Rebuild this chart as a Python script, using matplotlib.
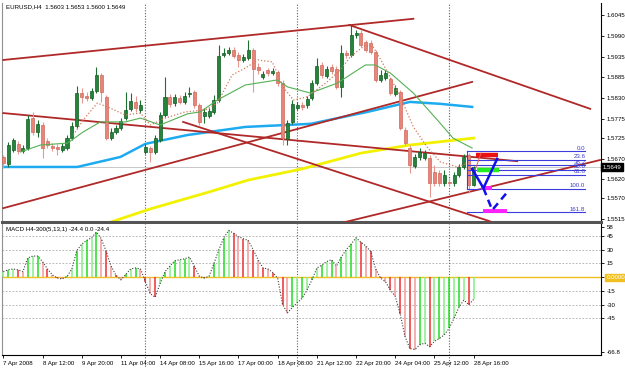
import matplotlib
matplotlib.use("Agg")
import matplotlib.pyplot as plt

plt.rcParams['font.family'] = ['Liberation Sans', 'DejaVu Sans']

# chart header texts
title = "EURUSD,H4  1.5603 1.5653 1.5600 1.5649"
macd_title = "MACD H4-300(5,13,1) -24.4 0.0 -24.4"

# H4 candles, 97 bars (6 Apr 20:00 .. 28 Apr 16:00)
opens = [1.5676, 1.5658, 1.5694, 1.5710, 1.5691, 1.5699, 1.5777, 1.5741, 1.5759, 1.5717,
         1.5704, 1.5702, 1.5694, 1.5699, 1.5725, 1.5756, 1.5842, 1.5834, 1.5829, 1.5847,
         1.5889, 1.5832, 1.5725, 1.5741, 1.5751, 1.5777, 1.5801, 1.5819, 1.5798, 1.5689,
         1.5699, 1.5689, 1.5720, 1.5785, 1.5832, 1.5816, 1.5829, 1.5819, 1.5840, 1.5845,
         1.5811, 1.5782, 1.5782, 1.5793, 1.5824, 1.5941, 1.5946, 1.5954, 1.5941, 1.5928,
         1.5933, 1.5954, 1.5910, 1.5884, 1.5902, 1.5894, 1.5897, 1.5868, 1.5723, 1.5767,
         1.5803, 1.5811, 1.5811, 1.5829, 1.5868, 1.5915, 1.5886, 1.5910, 1.5905, 1.5858,
         1.5946, 1.5941, 1.5993, 1.5998, 1.5975, 1.5972, 1.5949, 1.5876, 1.5881, 1.5879,
         1.5840, 1.5845, 1.5746, 1.5699, 1.5652, 1.5676, 1.5673, 1.5673, 1.5637, 1.5634,
         1.5608, 1.5611, 1.5608, 1.5629, 1.5650, 1.5681, 1.5603]
highs = [1.5681, 1.5715, 1.5725, 1.5717, 1.5707, 1.5785, 1.5793, 1.5772, 1.5767, 1.5725,
         1.5712, 1.5710, 1.5712, 1.5733, 1.5767, 1.5860, 1.5855, 1.5845, 1.5855, 1.5910,
         1.5894, 1.5837, 1.5751, 1.5759, 1.5777, 1.5845, 1.5842, 1.5834, 1.5824, 1.5710,
         1.5704, 1.5733, 1.5793, 1.5884, 1.5840, 1.5840, 1.5837, 1.5845, 1.5858, 1.5850,
         1.5816, 1.5803, 1.5803, 1.5837, 1.5967, 1.5959, 1.5962, 1.5962, 1.5949, 1.5944,
         1.5980, 1.5959, 1.5920, 1.5899, 1.5907, 1.5907, 1.5902, 1.5876, 1.5772, 1.5824,
         1.5819, 1.5819, 1.5834, 1.5876, 1.5933, 1.5923, 1.5912, 1.5918, 1.5912, 1.5967,
         1.5954, 1.6019, 1.6006, 1.6006, 1.5980, 1.5980, 1.5954, 1.5902, 1.5902, 1.5884,
         1.5863, 1.5850, 1.5754, 1.5707, 1.5684, 1.5699, 1.5694, 1.5681, 1.5655, 1.5642,
         1.5642, 1.5621, 1.5637, 1.5658, 1.5684, 1.5686, 1.5653]
lows = [1.5647, 1.5650, 1.5689, 1.5684, 1.5686, 1.5694, 1.5733, 1.5728, 1.5673, 1.5699,
        1.5691, 1.5681, 1.5689, 1.5694, 1.5720, 1.5751, 1.5816, 1.5821, 1.5824, 1.5842,
        1.5819, 1.5720, 1.5720, 1.5736, 1.5746, 1.5772, 1.5795, 1.5793, 1.5790, 1.5684,
        1.5663, 1.5684, 1.5715, 1.5780, 1.5806, 1.5808, 1.5814, 1.5814, 1.5832, 1.5803,
        1.5759, 1.5764, 1.5777, 1.5788, 1.5819, 1.5936, 1.5941, 1.5933, 1.5910, 1.5923,
        1.5928, 1.5845, 1.5892, 1.5879, 1.5886, 1.5889, 1.5860, 1.5707, 1.5707, 1.5762,
        1.5798, 1.5798, 1.5803, 1.5824, 1.5863, 1.5881, 1.5881, 1.5892, 1.5853, 1.5832,
        1.5933, 1.5936, 1.5985, 1.5962, 1.5949, 1.5944, 1.5871, 1.5871, 1.5876, 1.5837,
        1.5834, 1.5746, 1.5707, 1.5634, 1.5647, 1.5668, 1.5668, 1.5572, 1.5600, 1.5600,
        1.5600, 1.5600, 1.5600, 1.5624, 1.5645, 1.5582, 1.5600]
closes = [1.5660, 1.5707, 1.5720, 1.5691, 1.5699, 1.5775, 1.5741, 1.5762, 1.5699, 1.5707,
          1.5699, 1.5697, 1.5704, 1.5725, 1.5756, 1.5842, 1.5832, 1.5829, 1.5847, 1.5889,
          1.5845, 1.5725, 1.5741, 1.5751, 1.5769, 1.5798, 1.5821, 1.5803, 1.5811, 1.5702,
          1.5689, 1.5725, 1.5785, 1.5832, 1.5814, 1.5832, 1.5819, 1.5834, 1.5842, 1.5811,
          1.5767, 1.5793, 1.5795, 1.5824, 1.5938, 1.5946, 1.5954, 1.5938, 1.5928, 1.5936,
          1.5954, 1.5905, 1.5902, 1.5892, 1.5894, 1.5899, 1.5868, 1.5725, 1.5764, 1.5814,
          1.5811, 1.5806, 1.5827, 1.5868, 1.5912, 1.5889, 1.5905, 1.5899, 1.5858, 1.5946,
          1.5941, 1.5993, 1.5998, 1.5967, 1.5954, 1.5949, 1.5876, 1.5889, 1.5894, 1.5842,
          1.5855, 1.5751, 1.5712, 1.5655, 1.5676, 1.5689, 1.5686, 1.5608, 1.5608, 1.5608,
          1.5629, 1.5608, 1.5629, 1.5650, 1.5676, 1.5603, 1.5649]

# MACD histogram, one value per bar
macd = [6, 8, 9, 8, 6, 21, 23, 23, 17, 9,
        2.5, -1, -2, 0.7, 9, 29, 36, 40, 43, 49,
        42, 28, 12, 2, -3, 3, 9, 10, 9, -5,
        -18, -22, -7, 6, 12, 18, 19, 20, 22, 12,
        1, -1, 1, 15, 30, 43, 51, 48, 44, 42,
        40, 30, 19, 10, 9, 5, -1, -30, -39, -33,
        -28, -23, -14, -3, 10, 13, 17, 19, 12, 22,
        30, 36, 43, 38, 34, 28, 9, -1, -5, -14,
        -21, -40, -65, -78, -79, -74, -72, -76, -70, -67,
        -63, -56, -45, -33, -25, -30, -24.4]

# moving averages (bar index, price)
ma_green_x = [3.5, 7.6, 13.1, 16.3, 19.8, 24.9, 28, 32, 37.6, 40.2, 43.7, 49.4, 55.9, 58,
              62.7, 68.2, 73.9, 75.9, 79, 83.7, 88.6, 91.8, 95.7]
ma_green_y = [1.5689, 1.5707, 1.5712, 1.5741, 1.5767, 1.5767, 1.5777, 1.5759, 1.5788, 1.5793,
              1.5824, 1.5863, 1.5876, 1.5858, 1.5842, 1.5868, 1.5915, 1.5915, 1.5894, 1.5842,
              1.5772, 1.5725, 1.5699]
ma_dot_x = [14.3, 16.3, 19.2, 21.8, 24.9, 28, 30, 33.1, 37.1, 41.2, 43.7, 46.7, 49.4, 52,
            54.9, 57.1, 59.2, 62, 66.1, 68.8, 70.8, 73.9, 75.5, 77.3, 79.6, 81.6, 83.7, 86.5,
            89.2, 92.7, 94.7]
ma_dot_y = [1.5733, 1.5772, 1.5816, 1.5803, 1.5785, 1.5790, 1.5759, 1.5777, 1.5793, 1.5798,
            1.5816, 1.5889, 1.5907, 1.5928, 1.5923, 1.5858, 1.5824, 1.5832, 1.5871, 1.5902,
            1.5936, 1.5967, 1.5962, 1.5923, 1.5868, 1.5816, 1.5754, 1.5702, 1.5663, 1.5650,
            1.5660]
ma_blue_x = [0, 15.1, 23.9, 29, 37.6, 49.4, 62.7, 74.3, 83, 89.2, 95.7]
ma_blue_y = [1.5650, 1.5650, 1.5676, 1.5710, 1.5733, 1.5754, 1.5762, 1.5793, 1.5819, 1.5814, 1.5806]
ma_yellow_x = [22, 30, 42, 50, 61, 73, 83, 96]
ma_yellow_y = [1.5507, 1.5541, 1.5585, 1.5616, 1.5645, 1.5686, 1.5707, 1.5725]

# trend lines: (bar0, price0, bar1, price1)
trend_lines = [
    (0, 1.5928, 83.7, 1.6035),
    (70.6, 1.6019, 119.8, 1.5801),
    (0, 1.5543, 95.7, 1.5871),
    (69.8, 1.5507, 121.8, 1.5668),
    (0, 1.5790, 104.9, 1.5665),
    (36.7, 1.5767, 99.3, 1.5509),
]

# fibonacci retracement
fib_labels = ["0.0", "23.6", "38.2", "50.0", "61.8", "100.0", "161.8"]
fib_prices = [1.5691, 1.5668, 1.5654, 1.5642, 1.5630, 1.5593, 1.5532]
fib_x0, fib_x1 = 94.7, 118.8

# hand drawn projection
v_solid_x = [95.7, 98, 100.8]
v_solid_y = [1.5645, 1.5595, 1.5671]
v_dash_x = [98, 99.8, 102.9]
v_dash_y = [1.5595, 1.5538, 1.5585]

bid = 1.5649
price_ticks = [1.6045, 1.5990, 1.5935, 1.5885, 1.5830, 1.5775, 1.5725, 1.5670, 1.5620, 1.5570, 1.5515]
macd_ticks = [55, 45, 30, 15, 0, -15, -30, -45, -82]
macd_tick_labels = ["58", "45", "30", "15", "0.0000", "-15", "-30", "-45", "-66.8"]
time_bars = [0, 8, 16, 24, 32, 40, 48, 56, 64, 72, 80, 88, 96]
time_labels = ["7 Apr 2008", "8 Apr 12:00", "9 Apr 20:00", "11 Apr 04:00", "14 Apr 08:00",
               "15 Apr 16:00", "17 Apr 00:00", "18 Apr 08:00", "21 Apr 12:00", "22 Apr 20:00",
               "24 Apr 04:00", "25 Apr 12:00", "28 Apr 16:00"]
week_breaks = [29, 60, 91]

W, H = 625, 368
fig = plt.figure(figsize=(W / 100, H / 100), dpi=100)
fig.patch.set_facecolor('white')
ax = fig.add_axes([2 / W, 1 - 222 / H, 599 / W, 219 / H])
ax2 = fig.add_axes([2 / W, 1 - 355 / H, 599 / W, 131 / H])
xlim = (-0.27, 122)
fs = 4.4

# ---- main price panel ----
ax.set_xlim(*xlim)
ax.set_ylim(1.5507, 1.6076)
ax.axhline(bid, color='#c8c8c8', lw=0.7, zorder=1)
for b in week_breaks:
    ax.axvline(b, color='#606060', lw=0.8, ls=(0, (1, 1.5)), zorder=1)

ax.plot(ma_yellow_x, ma_yellow_y, color='#f2f200', lw=2.0, zorder=2)
ax.plot(ma_blue_x, ma_blue_y, color='#1eaaf0', lw=1.8, zorder=2)
for x0, y0, x1, y1 in trend_lines:
    ax.plot([x0, x1], [y0, y1], color='#b02828', lw=1.3, zorder=3)

for i in range(len(opens)):
    o, h, l, c = opens[i], highs[i], lows[i], closes[i]
    up = c >= o
    body = '#23843a' if up else '#e8857a'
    edge = '#135c22' if up else '#d0685c'
    wick = '#1d6e30' if up else '#e49a90'
    ax.vlines(i, l, h, color=wick, lw=0.8, zorder=4)
    ax.bar(i, max(abs(c - o), 0.00012), bottom=min(o, c), width=0.62,
           color=body, edgecolor=edge, lw=0.5, zorder=5)

ax.plot(ma_green_x, ma_green_y, color='#55b055', lw=0.8, zorder=6)
ax.plot(ma_dot_x, ma_dot_y, color='#d27a5a', lw=0.9, ls=(0, (1, 1.6)), zorder=6)

# fibo
for lab, p in zip(fib_labels, fib_prices):
    ax.plot([fib_x0, fib_x1], [p, p], color='#3c3cdc', lw=0.8, zorder=7)
    ax.text(fib_x1, p + 0.00015, lab, color='#3c3cc8', fontsize=fs, ha='right', va='bottom', zorder=8)
ax.plot([fib_x0, fib_x0], [fib_prices[0], fib_prices[5]], color='#3c3cdc', lw=0.8, zorder=7)

ax.plot([96.5, 101], [1.5680, 1.5680], color='#ee1111', lw=3.2, solid_capstyle='butt', zorder=9)
ax.plot([96.7, 101.2], [1.5641, 1.5641], color='#22ee22', lw=3.2, solid_capstyle='butt', zorder=9)
ax.plot([97.5, 99.8], [1.5595, 1.5595], color='#ff22ff', lw=2.8, solid_capstyle='butt', zorder=9)
ax.plot([98, 102.9], [1.5535, 1.5535], color='#ff22ff', lw=2.8, solid_capstyle='butt', zorder=9)
ax.plot([96.3, 97.5], [1.5642, 1.5686], color='#e06060', lw=0.7, zorder=9)
ax.plot(v_solid_x, v_solid_y, color='#1010ee', lw=1.8, zorder=10)
ax.plot(v_dash_x, v_dash_y, color='#1010ee', lw=1.8, ls=(0, (3, 2)), zorder=10)

ax.text(0.6, 1.6067, title, fontsize=fs, color='black', va='center', ha='left')

ax.yaxis.tick_right()
ax.set_yticks(price_ticks)
ax.set_yticklabels(["%.4f" % p for p in price_ticks])
ax.tick_params(axis='y', labelsize=fs, length=2.5, width=0.6, pad=1.5, colors='black')
ax.tick_params(axis='x', bottom=False, labelbottom=False)
ax.text(1.003, (bid - 1.5507) / (1.6076 - 1.5507), "%.4f" % bid, transform=ax.transAxes,
        fontsize=fs, color='white', va='center', ha='left',
        bbox=dict(boxstyle='square,pad=0.25', fc='black', ec='black'))
ax.spines['top'].set_visible(False)
ax.spines['left'].set_color('#909090')
ax.spines['right'].set_color('black')
ax.spines['right'].set_linewidth(0.8)
ax.spines['bottom'].set_color('#555555')
ax.spines['bottom'].set_linewidth(2.2)

# ---- MACD panel ----
ax2.set_xlim(*xlim)
ax2.set_ylim(-85, 58)
for g in [45, 30, 15, -15, -30, -45]:
    ax2.axhline(g, color='#a8a8a8', lw=0.6, ls=(0, (2, 2)), zorder=1)
for b in week_breaks:
    ax2.axvline(b, ymin=-0.12, ymax=1, color='#606060', lw=0.8, ls=(0, (1, 1.5)),
                zorder=1, clip_on=False)
ax2.axhline(0, color='#f0c020', lw=1.0, zorder=2)

bar_cols = []
for i, v in enumerate(macd):
    rising = i == 0 or v >= macd[i - 1]
    if rising:
        col = '#22dd22' if i % 2 else '#88ee88'
    else:
        col = '#ee3030' if i % 2 else '#f29a9a'
    bar_cols.append(col)
ax2.vlines(range(len(macd)), 0, macd, colors=bar_cols, lw=1.1, zorder=3)
ax2.plot(range(len(macd)), macd, color='#404040', lw=0.8, ls=(0, (1, 1.5)), zorder=4)
ax2.text(0.6, 52, macd_title, fontsize=fs, color='black', va='center', ha='left')

ax2.yaxis.tick_right()
ax2.set_yticks(macd_ticks)
ax2.set_yticklabels(macd_tick_labels)
ax2.tick_params(axis='y', labelsize=fs, length=2.5, width=0.6, pad=1.5)
for lab in ax2.get_yticklabels():
    if lab.get_text() == "0.0000":
        lab.set_color('white')
        lab.set_bbox(dict(boxstyle='square,pad=0.2', fc='#f0c020', ec='#f0c020'))
ax2.set_xticks(time_bars)
ax2.set_xticklabels(time_labels)
ax2.tick_params(axis='x', labelsize=fs, length=2.5, width=0.6, pad=1.5)
for lab in ax2.get_xticklabels():
    lab.set_ha('left')
ax2.spines['top'].set_visible(False)
ax2.spines['left'].set_color('#909090')
ax2.spines['right'].set_linewidth(0.8)
ax2.spines['bottom'].set_linewidth(0.8)

fig.savefig('out.png', dpi=100)
